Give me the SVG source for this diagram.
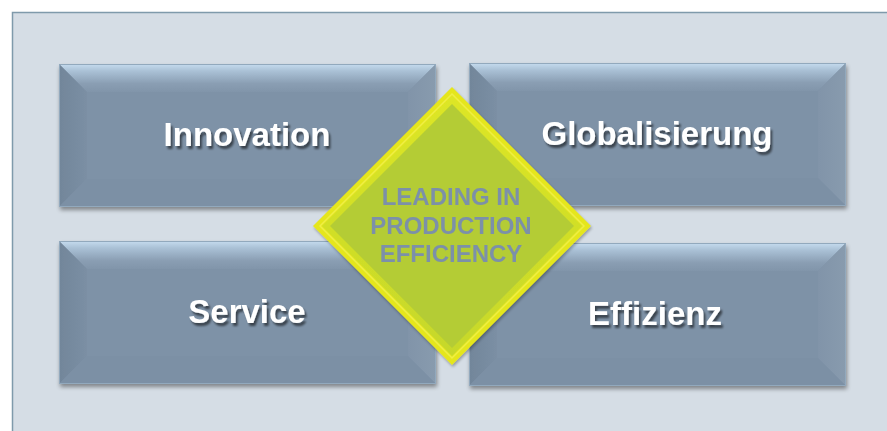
<svg xmlns="http://www.w3.org/2000/svg" width="887" height="431" viewBox="0 0 887 431">
  <defs>
    <linearGradient id="topBevel" x1="0" y1="0" x2="0" y2="1">
      <stop offset="0" stop-color="#c6dcef"/>
      <stop offset="0.25" stop-color="#aac1d6"/>
      <stop offset="0.7" stop-color="#8a9eb3"/>
      <stop offset="1" stop-color="#8195aa"/>
    </linearGradient>
    <linearGradient id="leftBevel" x1="0" y1="0" x2="1" y2="0">
      <stop offset="0" stop-color="#72869a"/>
      <stop offset="1" stop-color="#7b8fa4"/>
    </linearGradient>
    <linearGradient id="rightBevel" x1="0" y1="0" x2="1" y2="0">
      <stop offset="0" stop-color="#8194a9"/>
      <stop offset="1" stop-color="#889bae"/>
    </linearGradient>
    <linearGradient id="dmid" x1="0" y1="0" x2="0" y2="1">
      <stop offset="0" stop-color="#dde625"/>
      <stop offset="1" stop-color="#c6d82a"/>
    </linearGradient>
    <filter id="boxShadow" x="-5%" y="-5%" width="110%" height="115%">
      <feGaussianBlur in="SourceAlpha" stdDeviation="2"/>
      <feOffset dx="1" dy="3" result="b"/>
      <feComponentTransfer><feFuncA type="linear" slope="0.4"/></feComponentTransfer>
      <feMerge><feMergeNode/><feMergeNode in="SourceGraphic"/></feMerge>
    </filter>
    <filter id="textShadow" x="-10%" y="-20%" width="120%" height="150%">
      <feGaussianBlur in="SourceAlpha" stdDeviation="1.2"/>
      <feOffset dx="2" dy="2.5"/>
      <feComponentTransfer><feFuncA type="linear" slope="0.55"/></feComponentTransfer>
      <feMerge><feMergeNode/><feMergeNode in="SourceGraphic"/></feMerge>
    </filter>
    <filter id="dShadow" x="-10%" y="-10%" width="120%" height="120%">
      <feGaussianBlur in="SourceAlpha" stdDeviation="1.5"/>
      <feOffset dx="1" dy="2"/>
      <feComponentTransfer><feFuncA type="linear" slope="0.3"/></feComponentTransfer>
      <feMerge><feMergeNode/><feMergeNode in="SourceGraphic"/></feMerge>
    </filter>
    <g id="bevelBox">
      <rect x="0" y="0" width="377" height="143" fill="#7e92a7"/>
      <polygon points="0,0 377,0 349,28 28,28" fill="url(#topBevel)"/>
      <polygon points="0,0 28,28 28,115 0,143" fill="url(#leftBevel)"/>
      <polygon points="377,0 377,143 349,115 349,28" fill="url(#rightBevel)"/>
      <polygon points="0,143 28,115 349,115 377,143" fill="#7c90a5"/>
      <rect x="0.5" y="0.5" width="376" height="142" fill="none" stroke="#92a9bd" stroke-width="1"/>
    </g>
  </defs>
  <style>
    .lbl { font-family: "Liberation Sans", Arial, sans-serif; font-weight: bold; font-size: 33px; fill: #ffffff; text-anchor: middle; }
    .ctr { font-family: "Liberation Sans", Arial, sans-serif; font-weight: bold; font-size: 24px; fill: #7b90a9; text-anchor: middle; }
  </style>

  <rect x="0" y="0" width="887" height="431" fill="#ffffff"/>
  <rect id="panel" x="12.5" y="12.5" width="890" height="430" fill="#d5dde5" stroke="#7f9aab" stroke-width="1.5"/>

  <g id="connectors"></g>

  <g id="node-innovation" filter="url(#boxShadow)">
    <use href="#bevelBox" x="59" y="64"/>
    <text class="lbl" x="247" y="146" filter="url(#textShadow)">Innovation</text>
  </g>
  <g id="node-globalisierung" filter="url(#boxShadow)">
    <use href="#bevelBox" x="469" y="63"/>
    <text class="lbl" x="657" y="145" filter="url(#textShadow)">Globalisierung</text>
  </g>
  <g id="node-service" filter="url(#boxShadow)">
    <use href="#bevelBox" x="59" y="241"/>
    <text class="lbl" x="247" y="323" filter="url(#textShadow)">Service</text>
  </g>
  <g id="node-effizienz" filter="url(#boxShadow)">
    <use href="#bevelBox" x="469" y="243"/>
    <text class="lbl" x="655" y="325" filter="url(#textShadow)">Effizienz</text>
  </g>

  <g id="node-center" filter="url(#dShadow)">
    <polygon points="452,87 591,226 452,365 313,226" fill="#e5e61a"/>
    <polygon points="452,94 584,226 452,358 320,226" fill="none" stroke="#eeef45" stroke-width="1.5"/>
    <polygon points="452,96 582,226 452,356 322,226" fill="url(#dmid)"/>
    <polygon points="452,104 574,226 452,348 330,226" fill="#b4cc34"/>
    <text class="ctr" x="451" y="205">LEADING IN</text>
    <text class="ctr" x="451" y="234">PRODUCTION</text>
    <text class="ctr" x="451" y="262">EFFICIENCY</text>
  </g>
</svg>
